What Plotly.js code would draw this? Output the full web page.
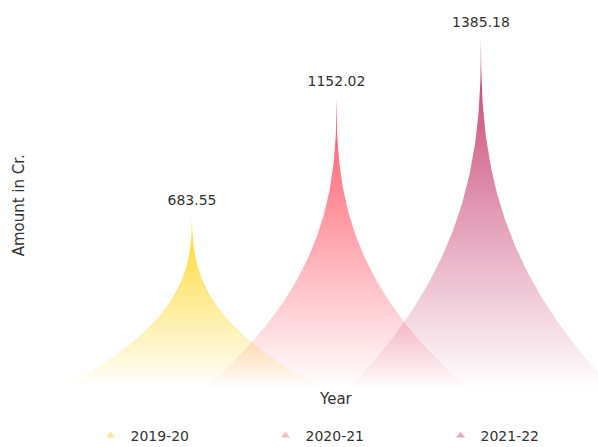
<!DOCTYPE html>
<html>
<head>
<meta charset="utf-8">
<script src="https://cdn.plot.ly/plotly-3.0.1.min.js"></script>
<style>html,body{margin:0;padding:0;background:#fff;}#chart{width:598px;height:447px;}</style>
</head>
<body>
<div id="chart"></div>
<script>
// ---- data ----
const years = ["2019-20", "2020-21", "2021-22"];
const amounts = [683.55, 1152.02, 1385.18];
const labels = ["683.55", "1152.02", "1385.18"];
const colors = ["255,214,40", "255,80,98", "197,52,106"];
const legendColors = ["rgba(252,226,130,0.8)", "rgba(246,170,180,0.8)", "rgba(222,150,178,0.8)"];

// ---- spike outline built from a category index and its value ----
const halfWidth = 0.913;   // in category units
const power = 2.6;
function spike(idx, value) {
  const xs = [], ys = [];
  const n = 80;
  for (let k = 0; k <= n; k++) {          // left edge, base -> tip
    const h = k / n;
    xs.push(idx - halfWidth * Math.pow(1 - h, power));
    ys.push(value * h);
  }
  for (let k = n - 1; k >= 0; k--) {      // right edge, tip -> base
    const h = k / n;
    xs.push(idx + halfWidth * Math.pow(1 - h, power));
    ys.push(value * h);
  }
  return {xs, ys};
}

const font = "DejaVu Sans, Verdana, sans-serif";
const traces = [];
years.forEach((yr, i) => {
  const s = spike(i, amounts[i]);
  traces.push({
    type: "scatter", mode: "lines", x: s.xs, y: s.ys,
    fill: "toself", line: {width: 0, color: "rgba(0,0,0,0)"},
    fillcolor: "rgba(" + colors[i] + ",0.5)",
    fillgradient: {type: "vertical", colorscale: [[0, "rgba(" + colors[i] + ",0)"], [1, "rgba(" + colors[i] + ",1)"]]},
    hoverinfo: "skip", showlegend: false, name: yr
  });
});
// value labels
traces.push({
  type: "scatter", mode: "markers+text",
  x: years.map((_, i) => i), y: amounts, text: labels,
  textposition: "top center",
  marker: {size: 9, color: "rgba(0,0,0,0)"},
  textfont: {family: font, size: 14, color: "#333"},
  showlegend: false, hoverinfo: "skip", cliponaxis: false
});
// legend entries
years.forEach((yr, i) => {
  traces.push({
    type: "scatter", mode: "markers", x: [null], y: [null], name: yr,
    marker: {symbol: "triangle-up", size: 8, color: legendColors[i]},
    showlegend: true
  });
});

const layout = {
  width: 598, height: 447,
  margin: {l: 40, r: 0, t: 30, b: 59},
  paper_bgcolor: "#fff", plot_bgcolor: "#fff",
  font: {family: font, color: "#333"},
  xaxis: {range: [-1.052, 2.81], showgrid: false, zeroline: false, showticklabels: false, ticks: "", showline: false, fixedrange: true},
  yaxis: {range: [0, 1413.3], showgrid: false, zeroline: false, showticklabels: false, ticks: "", showline: false, fixedrange: true},
  showlegend: true,
  legend: {orientation: "h", xref: "container", yref: "container", x: 353 / 598, xanchor: "center",
           y: 11 / 447, yanchor: "middle",
           font: {family: font, size: 14, color: "#333"}, entrywidth: 130, entrywidthmode: "pixels",
           itemwidth: 30, traceorder: "normal", bgcolor: "rgba(0,0,0,0)"},
  annotations: [
    {text: "Year", xref: "paper", yref: "paper", x: (336 - 40) / 558, y: -11 / 358, xanchor: "center", yanchor: "middle",
     showarrow: false, font: {family: font, size: 15, color: "#333"}},
    {text: "Amount in Cr.", xref: "paper", yref: "paper", x: -0.037, y: (388 - 205) / 358, xanchor: "center", yanchor: "middle",
     textangle: -90, showarrow: false, font: {family: font, size: 15, color: "#333"}}
  ]
};
Plotly.newPlot("chart", traces, layout, {displayModeBar: false, staticPlot: true});
</script>
</body>
</html>
